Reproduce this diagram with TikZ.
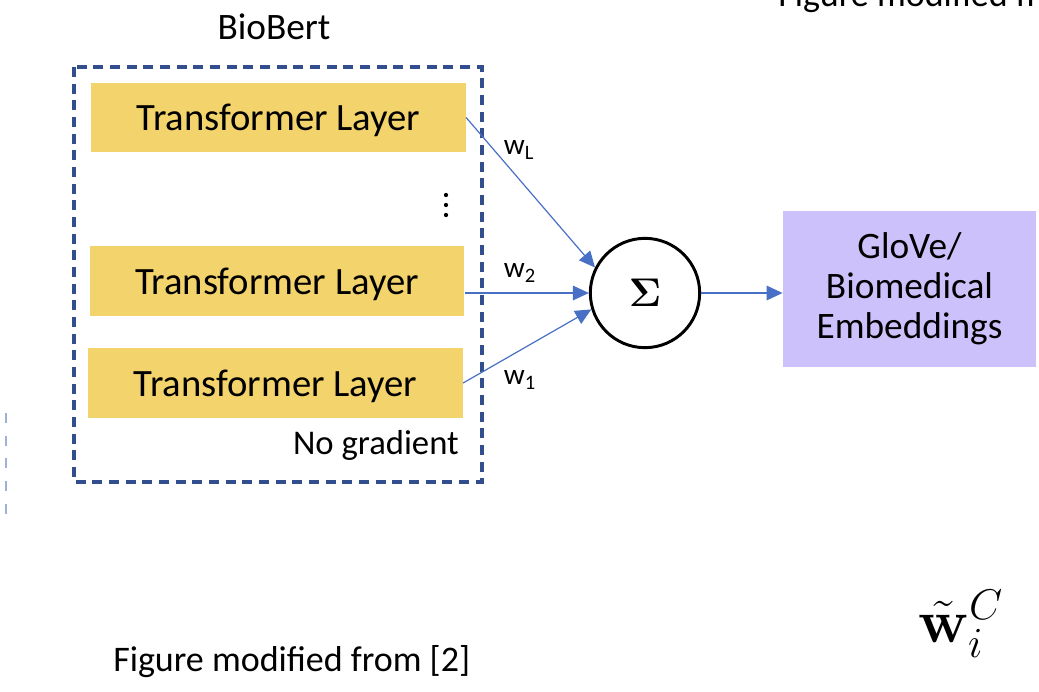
\RequirePackage{fix-cm}
\documentclass[tikz,border=0pt]{standalone}
\usepackage{amsmath,amssymb}
\usepackage[no-math]{fontspec}
\setmainfont{Carlito}
\usetikzlibrary{arrows.meta, positioning, fit, backgrounds, calc}
\definecolor{layerFill}{RGB}{243,211,107}
\definecolor{bertEdge}{RGB}{50,78,140}
\definecolor{embFill}{RGB}{204,193,250}
\definecolor{wArrow}{RGB}{72,112,196}
\definecolor{fadeEdge}{RGB}{160,176,214}

\begin{document}
\begin{tikzpicture}[
    x=0.75pt, y=-0.75pt,
    layer/.style={rectangle, fill=layerFill, minimum width=281pt, minimum height=52pt, inner sep=0pt, text depth=0pt, font=\fontsize{29}{34}\selectfont},
    emb/.style={rectangle, fill=embFill, minimum width=190pt, minimum height=117pt, align=center, font=\fontsize{28}{30}\selectfont},
    sumnode/.style={circle, draw=black, line width=2.2pt, minimum size=82pt, inner sep=0pt, font=\fontsize{30}{34}\selectfont},
    warrow/.style={-{Triangle[length=12pt, width=11pt]}, line width=0.9pt, wArrow},
    wlbl/.style={font=\fontsize{22}{26}\selectfont, inner sep=0pt},
    txt/.style={font=\fontsize{27}{32}\selectfont, inner sep=0pt}
]
\useasboundingbox (0,0) rectangle (1039,692);
\clip (0,0) rectangle (1039,692);

% --- BioBert block (frozen layers) ---
\node[txt, font=\fontsize{28}{32}\selectfont] (bert) at (274,27) {BioBert};

\node[layer] (tl) at (278.5,117.5) {Transformer Layer};
\node[layer] (t2) at (277,281) {Transformer Layer};
\node[layer] (t1) at (275.5,383) {Transformer Layer};

\foreach \yy in {195,205,215}
  \fill (446,\yy) circle (1.6pt);

\node[txt, font=\fontsize{26}{30}\selectfont, anchor=east] (nograd) at (459,445) {No gradient};

\coordinate (boxNW) at (74,67);
\coordinate (boxSE) at (482,482);
\draw[bertEdge, line width=2.4pt, dash pattern=on 7.5pt off 5pt] (boxNW) rectangle (boxSE);

% --- Weighted sum ---
\node[sumnode] (sum) at (645,293) {$\mathbf{\Sigma}$};

\draw[warrow] (tl.east) -- (sum.153);
\draw[warrow] (sum.west -| t2.east) -- (sum.west);
\draw[warrow] (t1.east) -- (sum.197);

\node[wlbl] (wL) at (519,150) {w\textsubscript{L}};
\node[wlbl] (w2) at (520,273) {w\textsubscript{2}};
\node[wlbl] (w1) at (520,380) {w\textsubscript{1}};

% --- Output embeddings ---
\node[emb] (glove) at (909.5,289) {GloVe/\\Biomedical\\Embeddings};
\draw[warrow] (sum.east) -- (sum.east -| glove.west);

% --- Slide leftovers ---
\node[txt, anchor=base west] (srcTop) at (778,7) {Figure modified from [2]};
\node[txt, anchor=base west] (srcBot) at (113,671) {Figure modified from [2]};
\node[inner sep=0pt, anchor=base west, font=\fontsize{46}{52}\selectfont] (wtilde) at (918,642) {$\tilde{\mathbf{w}}_i^{C}\;:$};

\coordinate (fadeTop) at (6,413);
\coordinate (fadeBot) at (6,522);
\draw[fadeEdge, line width=2pt, dash pattern=on 7.5pt off 9.5pt] (fadeTop) -- (fadeBot);

\end{tikzpicture}
\end{document}
